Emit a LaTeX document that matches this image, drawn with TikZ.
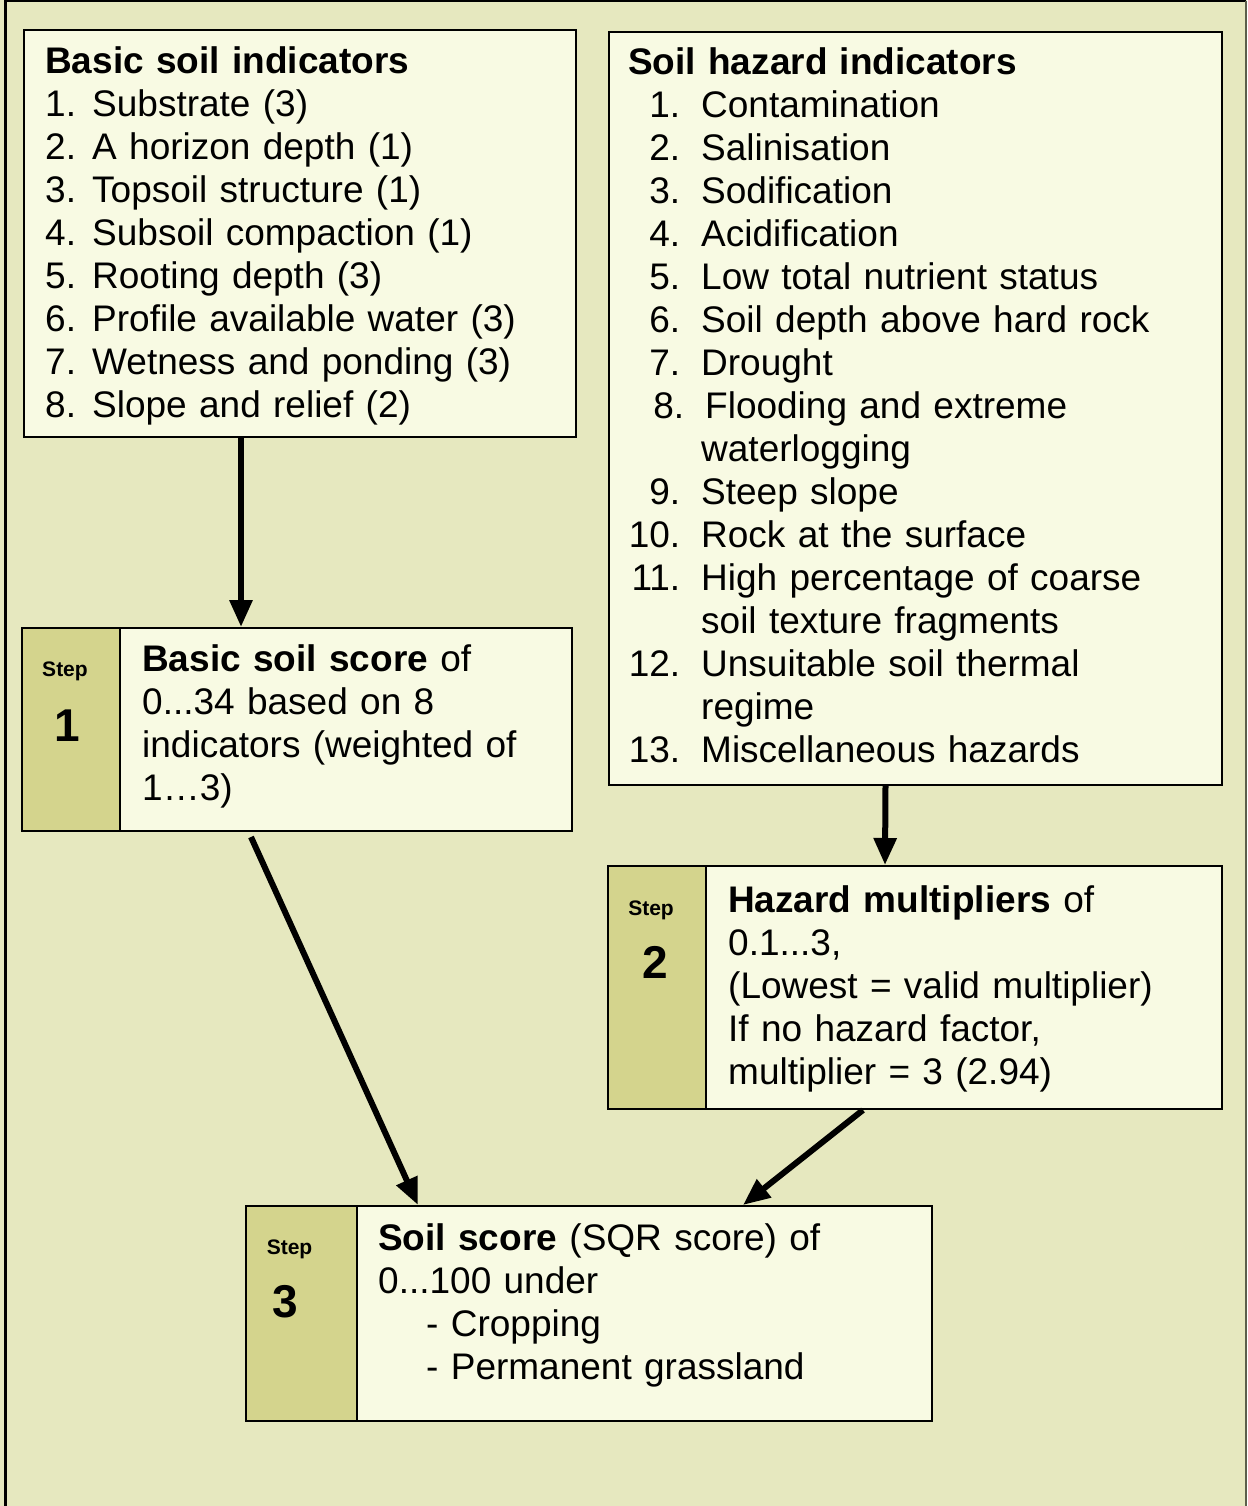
\documentclass[tikz,border=0pt]{standalone}
\usepackage{fontspec}
\setmainfont{Liberation Sans}
\usepackage{xcolor}
\usepackage{tikz}
\usetikzlibrary{positioning,arrows.meta}

\definecolor{pagebg}{HTML}{E6E8BF}
\definecolor{panelbg}{HTML}{F8FAE3}
\definecolor{stepbg}{HTML}{D4D48D}
\definecolor{rimgrey}{HTML}{5C5F4A}
\newcommand{\bnum}[1]{\makebox[47pt][l]{#1}}
\newcommand{\hnum}[1]{\makebox[52pt][r]{#1}\hspace{21pt}}
\newcommand{\hgap}{\hspace*{73pt}}
\newcommand{\firstline}{\rule{0pt}{32pt}}

\begin{document}
\begin{tikzpicture}[x=1pt, y=-1pt]
      \tikzset{panel/.style={rectangle, draw, line width=2pt, fill=panelbg, anchor=north west, inner sep=0pt},
        stepcol/.style={rectangle, draw, line width=2pt, fill=stepbg, anchor=north west, inner sep=0pt},
        boxtext/.style={anchor=north west, inner sep=0pt, align=left, text width=#1, font=\fontsize{37}{43}\selectfont},
        boxtext/.default=540pt,
        steplab/.style={anchor=base, inner sep=0pt, font=\fontsize{21}{24}\selectfont\bfseries},
        stepnum/.style={anchor=base, inner sep=0pt, font=\fontsize{46}{50}\selectfont\bfseries},
        arrow/.style={-{Triangle[length=27pt,width=22pt]}, line width=6pt}}
      % page and frame
      \useasboundingbox (0,0) rectangle (1247,1506);
      \fill[pagebg] (0,0) rectangle (1247,1506);
      \draw[line width=3pt] (5,1510) -- (5,1) -- (1246,1);
      \draw[rimgrey, line width=2pt] (1246,1) -- (1246,1510);
      % indicator lists
      \node[panel, minimum width=552pt, minimum height=407pt] (basic) at (23,29) {};
      \node[boxtext] (basictxt) at ([xshift=22pt,yshift=-12pt]basic.north west)
        {\firstline\textbf{Basic soil indicators}\\
         \bnum{1.}Substrate (3)\\
         \bnum{2.}A horizon depth (1)\\
         \bnum{3.}Topsoil structure (1)\\
         \bnum{4.}Subsoil compaction (1)\\
         \bnum{5.}Rooting depth (3)\\
         \bnum{6.}Profile available water (3)\\
         \bnum{7.}Wetness and ponding (3)\\
         \bnum{8.}Slope and relief (2)};
      \node[panel, minimum width=613pt, minimum height=753pt] (hazard) at (608,31) {};
      \node[boxtext=590pt] (hazardtxt) at ([xshift=20pt,yshift=-11pt]hazard.north west)
        {\firstline\textbf{Soil hazard indicators}\\
         \hnum{1.}Contamination\\
         \hnum{2.}Salinisation\\
         \hnum{3.}Sodification\\
         \hnum{4.}Acidification\\
         \hnum{5.}Low total nutrient status\\
         \hnum{6.}Soil depth above hard rock\\
         \hnum{7.}Drought\\
         \hspace*{4pt}\hnum{8.}Flooding and extreme\\
         \hgap waterlogging\\
         \hnum{9.}Steep slope\\
         \hnum{10.}Rock at the surface\\
         \hnum{11.}High percentage of coarse\\
         \hgap soil texture fragments\\
         \hnum{12.}Unsuitable soil thermal\\
         \hgap regime\\
         \hnum{13.}Miscellaneous hazards};
      % step 1
      \node[panel, minimum width=550pt, minimum height=203pt] (stepone) at (21,627) {};
      \node[stepcol, minimum width=98pt, minimum height=203pt] (steponecol) at (stepone.north west) {};
      \node[steplab] (steponelab) at ([xshift=-6pt,yshift=-49pt]steponecol.north) {Step};
      \node[stepnum] (steponenum) at ([xshift=-4pt,yshift=-114pt]steponecol.north) {1};
      \node[boxtext=420pt] (steponetxt) at ([xshift=21pt,yshift=-12pt]steponecol.north east)
        {\firstline\textbf{Basic soil score} of\\ 0...34 based on 8\\ indicators (weighted of\\ 1…3)};
      % step 2
      \node[panel, minimum width=614pt, minimum height=243pt] (steptwo) at (607,865) {};
      \node[stepcol, minimum width=98pt, minimum height=243pt] (steptwocol) at (steptwo.north west) {};
      \node[steplab] (steptwolab) at ([xshift=-6pt,yshift=-50pt]steptwocol.north) {Step};
      \node[stepnum] (steptwonum) at ([xshift=-2pt,yshift=-113pt]steptwocol.north) {2};
      \node[boxtext=480pt] (steptwotxt) at ([xshift=21pt,yshift=-15pt]steptwocol.north east)
        {\firstline\textbf{Hazard multipliers} of\\ 0.1...3,\\ (Lowest = valid multiplier)\\ If no hazard factor,\\ multiplier = 3 (2.94)};
      % step 3
      \node[panel, minimum width=686pt, minimum height=215pt] (stepthree) at (245,1205) {};
      \node[stepcol, minimum width=111pt, minimum height=215pt] (stepthreecol) at (stepthree.north west) {};
      \node[steplab] (stepthreelab) at ([xshift=-12pt,yshift=-49pt]stepthreecol.north) {Step};
      \node[stepnum] (stepthreenum) at ([xshift=-16pt,yshift=-112pt]stepthreecol.north) {3};
      \node[boxtext=540pt] (stepthreetxt) at ([xshift=20pt,yshift=-13pt]stepthreecol.north east)
        {\firstline\textbf{Soil score} (SQR score) of\\ 0...100 under\\ \hspace*{48pt}- Cropping\\ \hspace*{48pt}- Permanent grassland};
      % arrows
      \draw[arrow] ([xshift=-59pt]basic.south) -- ([xshift=-56pt]stepone.north);
      \draw[arrow] ([xshift=-30pt]hazard.south) -- ([xshift=-30pt]steptwo.north);
      \draw[arrow] ([xshift=-46pt,yshift=-5pt]stepone.south) -- ([xshift=-171pt]stepthree.north);
      \draw[arrow] ([xshift=-52pt]steptwo.south) -- ([xshift=154pt]stepthree.north);
    \end{tikzpicture}
\end{document}
